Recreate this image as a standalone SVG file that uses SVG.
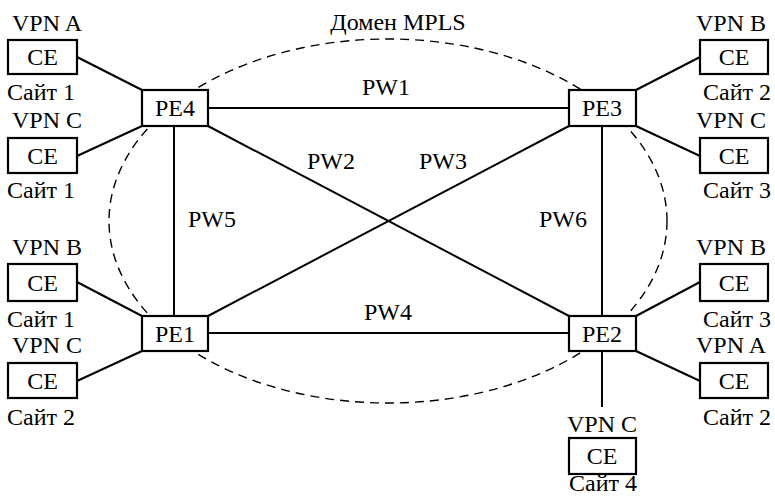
<svg xmlns="http://www.w3.org/2000/svg" width="775" height="502" viewBox="0 0 775 502" font-family="'Liberation Serif', 'Times New Roman', serif" font-size="24">
<style>
  text { fill: #000; }
  .m { text-anchor: middle; }
  .box { fill: #fff; stroke: #000; stroke-width: 2.2; }
  .ln { stroke: #000; stroke-width: 2; fill: none; }
  .dash { stroke: #000; stroke-width: 1.4; fill: none; stroke-dasharray: 9 6; }
</style>
<rect width="775" height="502" fill="#fff"/>
<g id="domain">
  <ellipse class="dash" cx="388" cy="221" rx="279" ry="182"/>
  <text class="m" x="398" y="30">Домен MPLS</text>
</g>
<g id="connectors">
  <line class="ln" x1="208" y1="108" x2="569" y2="108"/>
  <line class="ln" x1="208" y1="333" x2="569" y2="333"/>
  <line class="ln" x1="174" y1="126" x2="174" y2="316"/>
  <line class="ln" x1="602" y1="126" x2="602" y2="316"/>
  <line class="ln" x1="208" y1="126" x2="569" y2="316"/>
  <line class="ln" x1="208" y1="316" x2="569" y2="126"/>
  <line class="ln" x1="77" y1="57" x2="142" y2="90"/>
  <line class="ln" x1="77" y1="156" x2="142" y2="126"/>
  <line class="ln" x1="77" y1="282" x2="142" y2="316"/>
  <line class="ln" x1="77" y1="381" x2="142" y2="351"/>
  <line class="ln" x1="636" y1="90" x2="700" y2="57"/>
  <line class="ln" x1="636" y1="126" x2="700" y2="156"/>
  <line class="ln" x1="636" y1="316" x2="700" y2="282"/>
  <line class="ln" x1="636" y1="351" x2="700" y2="381"/>
  <line class="ln" x1="602" y1="351" x2="602" y2="407"/>
  <text class="m" x="386" y="95">PW1</text>
  <text class="m" x="331" y="169">PW2</text>
  <text class="m" x="443" y="169">PW3</text>
  <text class="m" x="388" y="320">PW4</text>
  <text class="m" x="212" y="227">PW5</text>
  <text class="m" x="563" y="227">PW6</text>
</g>
<g id="PE4"><rect class="box" x="142" y="90" width="66" height="36"/><text class="m" x="175" y="116">PE4</text></g>
<g id="PE3"><rect class="box" x="569" y="90" width="67" height="36"/><text class="m" x="602" y="116">PE3</text></g>
<g id="PE1"><rect class="box" x="142" y="316" width="66" height="35"/><text class="m" x="175" y="342">PE1</text></g>
<g id="PE2"><rect class="box" x="569" y="316" width="67" height="35"/><text class="m" x="602" y="342">PE2</text></g>

<g id="CE-A1"><text x="12" y="31">VPN A</text><rect class="box" x="8" y="40" width="69" height="34"/><text class="m" x="42.5" y="65">CE</text><text x="7" y="100">Сайт 1</text></g>
<g id="CE-C1"><text x="12" y="128">VPN C</text><rect class="box" x="8" y="138" width="69" height="35"/><text class="m" x="42.5" y="164">CE</text><text x="7" y="198">Сайт 1</text></g>
<g id="CE-B1"><text x="12" y="255">VPN B</text><rect class="box" x="8" y="264" width="69" height="37"/><text class="m" x="42.5" y="291">CE</text><text x="7" y="327">Сайт 1</text></g>
<g id="CE-C2"><text x="12" y="353">VPN C</text><rect class="box" x="8" y="363" width="69" height="35"/><text class="m" x="42.5" y="389">CE</text><text x="7" y="425">Сайт 2</text></g>

<g id="CE-B2"><text x="696" y="31">VPN B</text><rect class="box" x="700" y="40" width="68" height="34"/><text class="m" x="734" y="65">CE</text><text x="703" y="100">Сайт 2</text></g>
<g id="CE-C3"><text x="696" y="128">VPN C</text><rect class="box" x="700" y="138" width="68" height="35"/><text class="m" x="734" y="164">CE</text><text x="703" y="198">Сайт 3</text></g>
<g id="CE-B3"><text x="696" y="255">VPN B</text><rect class="box" x="700" y="264" width="68" height="37"/><text class="m" x="734" y="291">CE</text><text x="703" y="327">Сайт 3</text></g>
<g id="CE-A2"><text x="696" y="353">VPN A</text><rect class="box" x="700" y="363" width="68" height="35"/><text class="m" x="734" y="389">CE</text><text x="703" y="425">Сайт 2</text></g>

<g id="CE-C4"><text class="m" x="602" y="432">VPN C</text><rect class="box" x="569" y="438" width="67" height="36"/><text class="m" x="602" y="464">CE</text><text class="m" x="603" y="491">Сайт 4</text></g>
</svg>
